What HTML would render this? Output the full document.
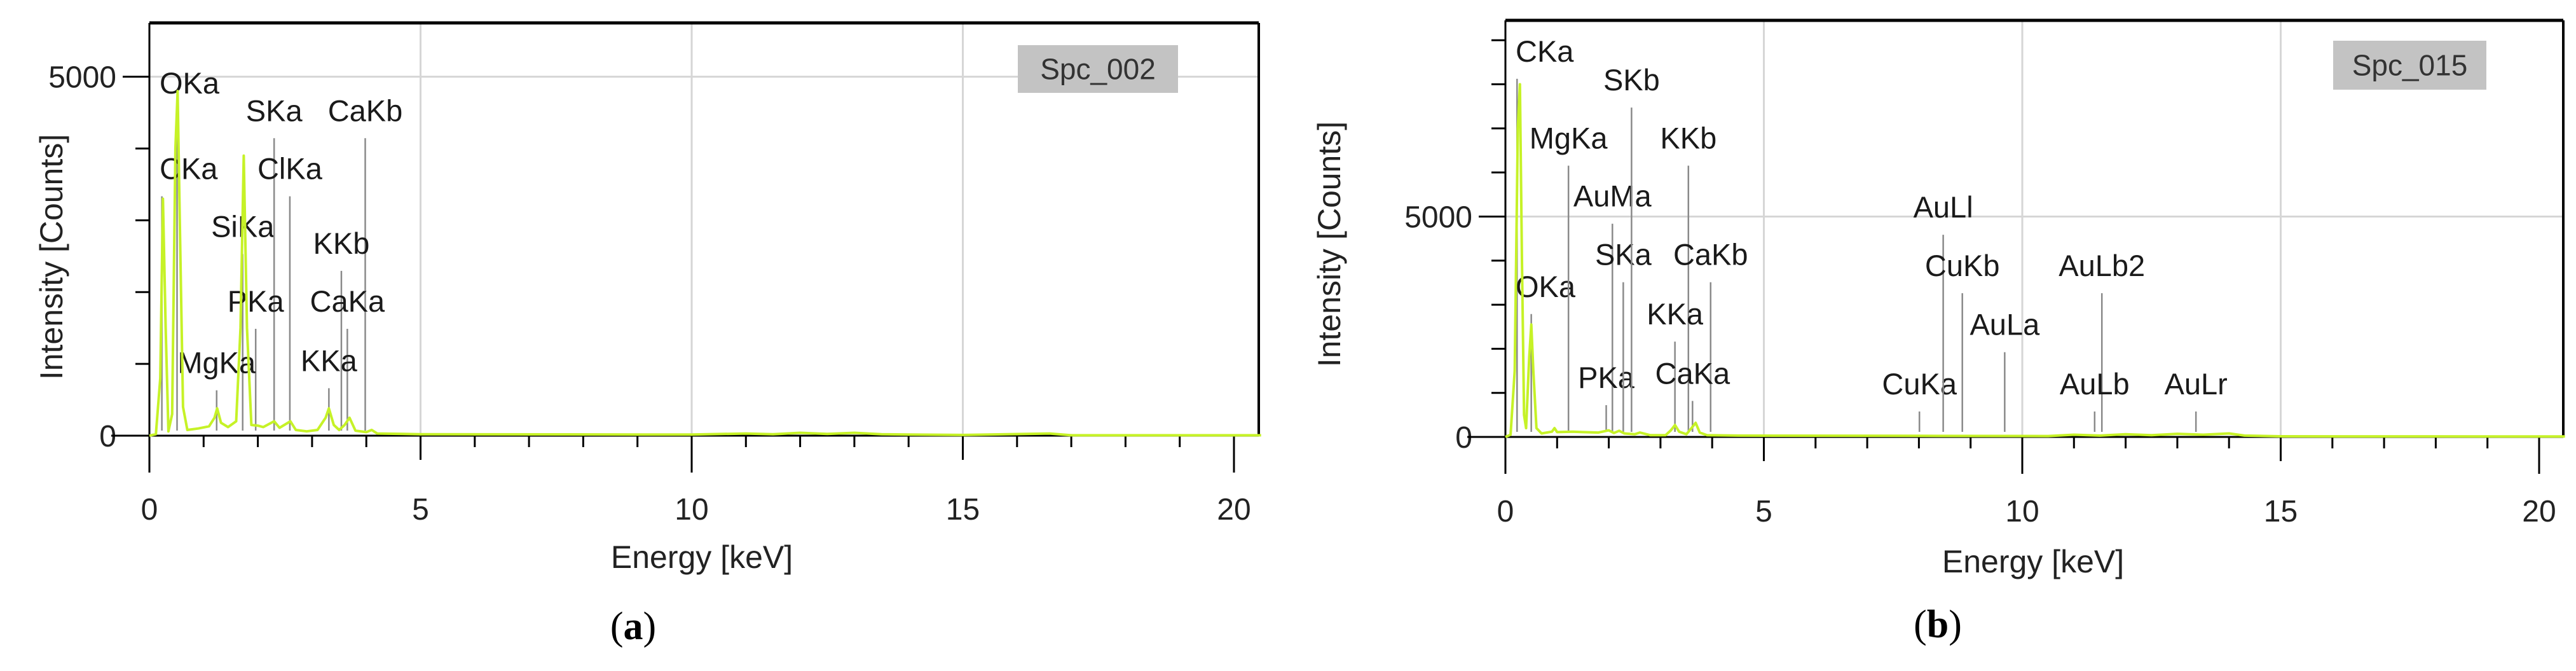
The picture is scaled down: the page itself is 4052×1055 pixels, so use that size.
<!DOCTYPE html>
<html><head><meta charset="utf-8"><style>
html,body{margin:0;padding:0;background:#fff;}
svg{display:block;font-family:"Liberation Sans",sans-serif;}
</style></head><body>
<svg id="fig" width="4052" height="1055" viewBox="0 0 4052 1055" xmlns="http://www.w3.org/2000/svg">
<rect width="4052" height="1055" fill="#fff"/>
</svg>
<script>
// ---------- Panel (a) data ----------
const aSpecE = [0,0.12,0.2,0.25,0.3,0.35,0.42,0.48,0.52,0.56,0.62,0.7,0.9,1.1,1.2,1.25,1.32,1.45,1.6,1.68,1.74,1.8,1.88,2.0,2.1,2.3,2.4,2.6,2.7,2.9,3.1,3.25,3.31,3.4,3.5,3.6,3.69,3.8,4.0,4.1,4.2,5,10,11,11.5,12,12.5,13,13.5,14,15,16.6,17,20.5];
const aSpecC = [0,20,800,3300,1500,60,300,4000,4800,3000,400,80,100,130,250,380,180,120,200,1500,3900,1500,150,140,120,200,110,200,80,60,80,250,380,150,80,150,250,70,50,80,30,20,15,30,20,40,25,40,20,15,10,30,5,5];
const aLineNames = ["OKa","CKa","SiKa","SKa","ClKa","CaKb","KKb","PKa","CaKa","MgKa","KKa"];
const aLineE = [0.51,0.23,1.72,2.30,2.59,3.98,3.54,1.96,3.65,1.24,3.31];
const aLineC = [4528,3335,2530,4144,3335,4144,2296,1488,1488,632,661];
const aYTicks = [0,5000];
const aXTicks = [0,5,10,15,20];
// ---------- Panel (b) data ----------
const bSpecE = [0,0.1,0.18,0.24,0.28,0.32,0.36,0.4,0.46,0.5,0.54,0.6,0.7,0.9,0.95,1.0,1.3,1.5,1.8,2.0,2.1,2.2,2.3,2.5,2.6,2.8,3.1,3.2,3.28,3.36,3.5,3.6,3.68,3.76,3.9,4.5,8,10.5,11,11.5,12,12.5,13,13.5,14,14.3,15,20.5];
const bSpecC = [0,50,1500,7000,8000,4000,500,200,1800,2550,1500,200,80,120,200,110,120,110,100,150,90,140,80,60,100,40,40,150,270,120,60,200,320,100,40,30,25,20,50,30,60,40,70,50,80,30,15,10];
const bLineNames = ["CKa","OKa","MgKa","AuMa","PKa","SKa","SKb","KKb","KKa","CaKb","CaKa","CuKa","AuLl","CuKb","AuLa","AuLb2","AuLb","AuLr"];
const bLineE = [0.225,0.50,1.22,2.07,1.95,2.28,2.44,3.54,3.28,3.97,3.62,8.01,8.47,8.84,9.66,11.54,11.40,13.36];
const bLineC = [8125,2788,6154,4837,721,3510,7471,6154,2163,3510,817,577,4587,3260,1923,3260,577,577];
const bYTicks = [0,5000];
const bXTicks = [0,5,10,15,20];

const NS="http://www.w3.org/2000/svg";
const svg=document.getElementById('fig');
function mk(tag,attrs,parent){const e=document.createElementNS(NS,tag);for(const k in attrs)e.setAttribute(k,attrs[k]);(parent||svg).appendChild(e);return e;}

function panel(p){
  const g=mk('g',{});
  
  
  const xs=e=>p.x0+e*(p.x20-p.x0)/20;
  const ys=c=>p.y0-c*(p.y0-p.yTop)/p.ymax;
  [5,10,15].forEach(v=>{const l=mk('line',{x1:xs(v),x2:xs(v),y1:p.yTop,y2:p.y0,stroke:'#d6d6d6','stroke-width':3},g);
    
    });
  const hg=mk('line',{x1:p.x0,x2:p.xR,y1:ys(5000),y2:ys(5000),stroke:'#d6d6d6','stroke-width':3},g);
  
  
  const lb=mk('g',{},g);
  
  
  mk('rect',{x:p.lgx,y:p.lgy,width:p.lgw,height:p.lgh,fill:'#c3c3c3'},lb);
  const lt=mk('text',{x:p.lgx+p.lgw/2,y:p.lgy+p.lgh/2+16,'text-anchor':'middle','font-size':46,fill:'#333'},lb);
  lt.textContent=p.legend;
  mk('line',{x1:p.x0,x2:p.xR,y1:p.yTop,y2:p.yTop,stroke:'#000','stroke-width':5},g);
  mk('line',{x1:p.xR,x2:p.xR,y1:p.yTop,y2:p.y0,stroke:'#000','stroke-width':4},g);
  const ya=mk('line',{x1:p.x0,x2:p.x0,y1:p.yTop,y2:p.y0+58,stroke:'#000','stroke-width':3},g);
  
  
  for(let c=1000;c<p.ymax;c+=1000){ if(c%5000===0)continue;
    mk('line',{x1:p.x0-22,x2:p.x0,y1:ys(c),y2:ys(c),stroke:'#000','stroke-width':3},g);}
  p.yTicks.forEach(c=>{
    mk('line',{x1:p.x0-42,x2:p.x0,y1:ys(c),y2:ys(c),stroke:'#000','stroke-width':3},g);
    const t=mk('text',{x:p.x0-52,y:ys(c)+17,'text-anchor':'end','font-size':48,fill:'#222'},g);
    
    
    t.textContent=String(c);
  });
  const xa=mk('line',{x1:p.x0-60,x2:p.xR,y1:p.y0,y2:p.y0,stroke:'#000','stroke-width':3},g);
  
  
  for(let e=1;e<=20;e++){ const len=(e%10===0)?58:(e%5===0?38:18);
    mk('line',{x1:xs(e),x2:xs(e),y1:p.y0,y2:p.y0+len,stroke:'#000','stroke-width':3},g);}
  p.xTicks.forEach(e=>{
    const t=mk('text',{x:xs(e),y:p.tickY,'text-anchor':'middle','font-size':48,fill:'#222'},g);
    
    
    t.textContent=String(e);
  });
  p.lineE.forEach((e,i)=>{
    const x=xs(e),top=ys(p.lineC[i]);
    const l=mk('line',{x1:x,x2:x,y1:top,y2:p.y0-8,stroke:'#8a8a8a','stroke-width':2.5},g);
    
    
    const t=mk('text',{x:x,y:top-27,'text-anchor':'middle','font-size':47,fill:'#1a1a1a'},g);
    
    
    t.textContent=p.lineNames[i];
    const w=t.getComputedTextLength?t.getComputedTextLength():80;
    if(x-w/2<p.x0+16){t.setAttribute('text-anchor','start');t.setAttribute('x',p.x0+16);}
  });
  const d=p.specE.map((e,i)=>(i?'L':'M')+xs(e).toFixed(1)+','+ys(p.specC[i]).toFixed(1)).join(' ');
  const path=mk('path',{d:d,fill:'none',stroke:'#c6f227','stroke-width':4,'stroke-linejoin':'round'},g);
  
  
  const xt=mk('text',{x:p.xtX,y:p.xtY,'text-anchor':'middle','font-size':50,fill:'#222'},g);
  
  
  xt.textContent='Energy [keV]';
  const yt=mk('text',{x:0,y:0,'text-anchor':'middle','font-size':50,fill:'#222',transform:`translate(${p.ytX+17},${p.ytY}) rotate(-90)`},g);
  
  
  yt.textContent='Intensity [Counts]';
  const cap=mk('text',{x:p.capX,y:p.capY+22,'text-anchor':'middle','font-size':62,'font-family':'Liberation Serif, serif',fill:'#000'},g);
  
  
  const s1=mk('tspan',{},cap);s1.textContent='(';
  const s2=mk('tspan',{'font-weight':'bold'},cap);s2.textContent=p.cap;
  const s3=mk('tspan',{},cap);s3.textContent=')';
}

panel({id:'a',x0:235,x20:1941,xR:1980,yTop:36,y0:685,ymax:5750,specE:aSpecE,specC:aSpecC,
  lineNames:aLineNames,lineE:aLineE,lineC:aLineC,yTicks:aYTicks,xTicks:aXTicks,
  legend:'Spc_002',lgx:1601,lgy:71,lgw:252,lgh:75,tickY:817,xtX:1104,xtY:893,ytX:81,ytY:404,capX:996,capY:983,cap:'a'});
panel({id:'b',x0:2368,x20:3994,xR:4032,yTop:32,y0:687,ymax:9450,specE:bSpecE,specC:bSpecC,
  lineNames:bLineNames,lineE:bLineE,lineC:bLineC,yTicks:bYTicks,xTicks:bXTicks,
  legend:'Spc_015',lgx:3670,lgy:64,lgw:241,lgh:77,tickY:820,xtX:3198,xtY:900,ytX:2091,ytY:384,capX:3048,capY:980,cap:'b'});
</script>
</body></html>
